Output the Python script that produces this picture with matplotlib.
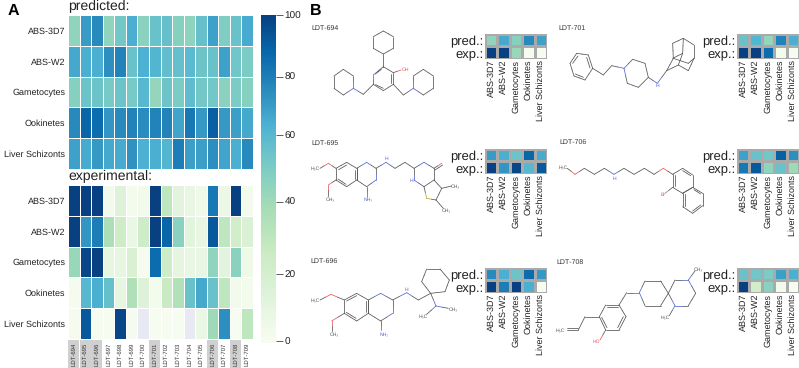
import numpy as np
import matplotlib
matplotlib.use("Agg")
import matplotlib.pyplot as plt

plt.rcParams['font.family'] = ['Liberation Sans', 'DejaVu Sans']
plt.rcParams['text.hinting'] = 'no_hinting'
plt.rcParams['text.hinting_factor'] = 1

assays = ["ABS-3D7", "ABS-W2", "Gametocytes", "Ookinetes", "Liver Schizonts"]
compounds = ["LDT-694", "LDT-695", "LDT-696", "LDT-697", "LDT-698", "LDT-699", "LDT-700", "LDT-701",
             "LDT-702", "LDT-703", "LDT-704", "LDT-705", "LDT-706", "LDT-707", "LDT-708", "LDT-709"]
highlighted = ["LDT-694", "LDT-695", "LDT-696", "LDT-701", "LDT-706", "LDT-708"]

pred_3d7 = [44, 70, 76, 44, 52, 64, 46, 55, 56, 47, 45, 56, 68, 49, 55, 65]
pred_w2 = [66, 64, 64, 74, 78, 55, 63, 61, 57, 56, 59, 54, 55, 68, 53, 50]
pred_gam = [47, 54, 54, 51, 54, 51, 60, 43, 54, 50, 58, 52, 52, 46, 50, 47]
pred_ook = [76, 88, 86, 72, 76, 78, 75, 78, 78, 67, 82, 71, 90, 71, 69, 66]
pred_liv = [68, 65, 71, 66, 65, 73, 63, 64, 61, 80, 69, 69, 74, 67, 64, 76]

exp_3d7 = [100, 100, 100, 3, 14, 2, 3, 100, 30, 11, 8, 5, 82, 6, 100, 2]
exp_w2 = [100, 72, 80, 36, 24, 7, 24, 100, 88, 46, 12, 8, 92, 30, 22, 16]
exp_gam = [42, 98, 100, 9, 9, 17, 1, 86, 24, 10, 8, 8, 44, 11, 46, 5]
exp_ook = [1, 60, 64, 56, 9, 35, 14, 2, 26, 34, 55, 66, 55, 30, 3, 2]
exp_liv = [1, 92, 0, 0, 98, 1, np.nan, 0, 0, 0, np.nan, 7, 40, 74, 0, 30]

cbar_ticks = [0, 20, 40, 60, 80, 100]

predicted = np.array([pred_3d7, pred_w2, pred_gam, pred_ook, pred_liv], float)
experimental = np.array([exp_3d7, exp_w2, exp_gam, exp_ook, exp_liv], float)

W, H = 799, 368
fig = plt.figure(figsize=(W / 100, H / 100), dpi=100)
cmap = plt.get_cmap("GnBu").copy()
cmap.set_bad("#e9e9f3")


def px_axes(x0, y0, x1, y1):
    return fig.add_axes([x0 / W, 1 - y1 / H, (x1 - x0) / W, (y1 - y0) / H])


def heat(ax, data, edge, lw):
    d = np.ma.masked_invalid(data)
    ax.pcolormesh(d, cmap=cmap, vmin=0, vmax=100, edgecolors=edge, linewidth=lw)
    ax.set_xlim(0, data.shape[1])
    ax.set_ylim(data.shape[0], 0)
    for s in ax.spines.values():
        s.set_visible(False)
    ax.tick_params(length=0)


# Panel A
top = px_axes(68, 15, 253, 169)
heat(top, predicted, "white", 0.7)
top.set_xticks([])
top.set_yticks(np.arange(5) + .5, assays, fontsize=6.6, color="#222222")
top.tick_params(axis="y", pad=1.8)

bot = px_axes(68, 185, 253, 339)
heat(bot, experimental, "white", 0.7)
bot.set_yticks(np.arange(5) + .5, assays, fontsize=6.6, color="#222222")
bot.tick_params(axis="y", pad=1.8)
bot.set_xticks(np.arange(16) + .5, compounds, rotation=90, fontsize=4.1, color="#333333")
bot.tick_params(axis="x", pad=2.4)
for lab in bot.get_xticklabels():
    if lab.get_text() in highlighted:
        lab.set_bbox(dict(facecolor="#d0d0d0", edgecolor="none", pad=2.0))

# Colour bar: tick spacing in the reference is slightly uneven
tick_vals = [-0.6, 0, 20, 40, 60, 80, 100]
tick_pos = [343, 341, 274, 201.7, 135, 76.7, 15]


def fwd(v):
    return np.interp(v, tick_vals, -np.array(tick_pos))


def inv(y):
    return np.interp(y, -np.array(tick_pos), tick_vals)


cax = px_axes(261, 15, 276, 343)
levels = np.linspace(-0.6, 100, 300)
cax.pcolormesh([0, 1], levels, np.clip(levels[:-1], 0, 100)[:, None], cmap=cmap, vmin=0, vmax=100)
cax.set_yscale("function", functions=(fwd, inv))
cax.set_ylim(-0.6, 100)
cax.set_xticks([])
cax.yaxis.tick_right()
cax.set_yticks(cbar_ticks, [str(t) for t in cbar_ticks], fontsize=7.5, color="#222222")
cax.minorticks_off()
cax.tick_params(axis="y", length=5, width=0.6, color="#444444", pad=1)
for s in cax.spines.values():
    s.set_visible(False)

# Panel B mini heatmaps
panels = {"LDT-694": (485, 34), "LDT-701": (737, 34), "LDT-695": (485, 149),
          "LDT-706": (737, 149), "LDT-696": (485, 268), "LDT-708": (737, 268)}
for name, (px, py) in panels.items():
    i = compounds.index(name)
    ax = px_axes(px, py, px + 62, py + 24.5)
    heat(ax, np.vstack([predicted[:, i], experimental[:, i]]), "#aaaaaa", 1.0)
    ax.set_yticks([.5, 1.5], ["pred.:", "exp.:"], fontsize=9.2, color="#222222")
    ax.set_xticks(np.arange(5) + .5, assays, rotation=90, fontsize=6.7, color="#222222")
    ax.tick_params(axis="y", pad=1)
    ax.tick_params(axis="x", pad=1)

# Overlay for texts and molecule sketches, in pixel coordinates
ov = fig.add_axes([0, 0, 1, 1], zorder=-1)
ov.set_xlim(0, W)
ov.set_ylim(H, 0)
ov.axis("off")

fig.text(68 / W, 1 - 6 / H, "predicted:", fontsize=9.9, va="center", color="#222222")
fig.text(68 / W, 1 - 176.5 / H, "experimental:", fontsize=9.9, va="center", color="#222222")
fig.text(8 / W, 1 - 11 / H, "A", fontsize=11.5, fontweight="bold", va="center")
fig.text(310 / W, 1 - 10.5 / H, "B", fontsize=11.5, fontweight="bold", va="center")

RED, BLUE, OLIVE, BROWN = "#ee5555", "#5566cc", "#b5a83a", "#a87878"


def molecule(off, chains, atoms, labels):
    """chains: polylines, atoms: heteroatom points, labels: atom texts; all in 3x sketch units."""
    ox, oy = off
    atom_map = {xy: c for xy, c in atoms}
    for chain in chains:
        for a, b in zip(chain[:-1], chain[1:]):
            m = ((a[0] + b[0]) / 2, (a[1] + b[1]) / 2)
            for p, q in ((a, m), (b, m)):
                ov.plot([ox + p[0] / 3, ox + q[0] / 3], [oy + p[1] / 3, oy + q[1] / 3],
                        color=atom_map.get(p, "#555555"), lw=0.55, solid_capstyle="round")
    for x, y, s, c in labels:
        ov.text(ox + x / 3, oy + y / 3, s, fontsize=3.6, color=c, ha="center", va="center")


def ring(*pts):
    return list(pts) + [pts[0]]


molecule((310, 0), [
    ring((220, 93), (250, 110), (250, 145), (220, 162), (190, 145), (190, 110)),
    [(220, 162), (220, 200)],
    ring((220, 200), (250, 218), (250, 253), (220, 272), (190, 253), (190, 225)),
    [(214, 208), (196, 222)], [(243, 222), (243, 250)], [(197, 254), (220, 265)],
    [(250, 218), (273, 210)],
    [(190, 253), (160, 283), (130, 265)],
    ring((130, 265), (100, 285), (72, 265), (72, 228), (100, 208), (130, 228)),
    [(250, 253), (280, 285), (310, 265)],
    ring((310, 265), (340, 285), (370, 265), (370, 228), (340, 208), (310, 228)),
], [((190, 225), BLUE), ((130, 265), BLUE), ((310, 265), BLUE), ((273, 210), RED)],
    [(287, 208, "OH", RED)])

molecule((550, 0), [
    ring((60, 190), (80, 160), (115, 165), (128, 205), (105, 240), (72, 228)),
    [(68, 190), (84, 168)], [(110, 172), (120, 204)], [(100, 232), (76, 222)],
    [(128, 205), (160, 225), (185, 197), (222, 205)],
    ring((222, 205), (248, 178), (285, 190), (295, 232), (265, 262), (232, 250)),
    [(295, 232), (322, 250), (350, 212), (370, 175), (368, 130), (400, 115), (432, 135), (432, 175), (415, 212), (385, 195), (350, 212)],
    [(370, 175), (415, 190), (432, 175)], [(400, 115), (398, 160), (385, 195)], [(368, 175), (398, 160)],
], [((222, 205), BLUE), ((322, 250), BLUE)], [(323, 256, "H", BLUE)])

molecule((310, 125), [
    [(30, 130), (55, 115), (78, 130)],
    ring((78, 130), (110, 112), (140, 130), (140, 165), (110, 185), (78, 165)),
    [(86, 134), (110, 120)], [(134, 134), (134, 162)], [(84, 162), (108, 178)],
    ring((140, 130), (170, 112), (198, 130), (198, 165), (170, 185), (140, 165)),
    [(170, 185), (170, 215)],
    [(78, 165), (55, 180), (55, 212)],
    [(198, 130), (228, 112), (255, 130), (285, 112), (312, 130)],
    ring((312, 130), (342, 112), (372, 130), (372, 165), (342, 185), (312, 165)),
    [(372, 130), (395, 115)], [(375, 135), (398, 120)],
    [(372, 165), (395, 190), (378, 225), (350, 220), (342, 185)],
    [(395, 190), (425, 183)], [(378, 225), (400, 250)],
], [((55, 115), RED), ((55, 180), RED), ((170, 112), BLUE), ((198, 165), BLUE), ((228, 112), BLUE),
    ((170, 215), BLUE), ((342, 112), BLUE), ((312, 165), BLUE), ((395, 115), RED), ((350, 220), OLIVE)],
    [(15, 130, "H₃C", "#555555"), (228, 102, "H", BLUE), (175, 222, "NH₂", BLUE), (62, 222, "CH₃", "#555555"),
     (437, 183, "CH₃", "#555555"), (408, 255, "CH₃", "#555555"), (305, 166, "H", BLUE)])

molecule((550, 125), [
    [(52, 130), (75, 148), (103, 130), (133, 148), (163, 130), (192, 148), (222, 130), (252, 148), (283, 130),
     (312, 148), (340, 130), (368, 148)],
    ring((368, 148), (398, 130), (428, 150), (428, 187), (398, 205), (368, 187)),
    [(398, 137), (422, 152)], [(374, 150), (374, 184)],
    ring((428, 187), (458, 205), (458, 242), (428, 265), (398, 245), (398, 205)),
    [(432, 194), (452, 207)], [(452, 240), (428, 258)], [(404, 242), (404, 208)],
    [(368, 187), (345, 205)],
], [((75, 148), RED), ((192, 148), BLUE), ((340, 130), RED), ((345, 205), BROWN)],
    [(40, 127, "H₃C", "#555555"), (193, 162, "H", BLUE), (339, 208, "Br", BROWN)])

molecule((310, 245), [
    [(30, 165), (63, 148), (103, 165)],
    ring((103, 165), (140, 145), (175, 165), (175, 205), (140, 228), (103, 205)),
    [(110, 168), (140, 152)], [(169, 168), (169, 202)], [(109, 202), (138, 220)],
    ring((175, 165), (212, 145), (248, 165), (248, 205), (212, 228), (175, 205)),
    [(212, 228), (212, 256)],
    [(103, 205), (65, 228), (65, 258)],
    [(248, 165), (290, 143), (325, 165), (362, 145)],
    ring((362, 145), (335, 110), (350, 72), (390, 72), (418, 105), (405, 140)),
    [(362, 145), (378, 183), (415, 190)], [(378, 183), (350, 208)],
], [((63, 148), RED), ((65, 228), RED), ((212, 145), BLUE), ((248, 205), BLUE), ((290, 143), BLUE),
    ((212, 256), BLUE), ((378, 183), BLUE)],
    [(15, 167, "H₃C", "#555555"), (222, 267, "NH₂", BLUE), (72, 267, "CH₃", "#555555"),
     (290, 133, "H", BLUE), (430, 192, "CH₃", "#555555"), (340, 215, "H₃C", "#555555")])

molecule((550, 245), [
    [(52, 255), (85, 255), (105, 215), (148, 215)], [(52, 250), (83, 250)],
    ring((148, 215), (167, 180), (207, 180), (228, 215), (207, 255), (167, 255)),
    [(172, 187), (204, 187)], [(220, 215), (203, 248)], [(171, 248), (155, 217)],
    [(167, 255), (150, 285)],
    [(207, 180), (230, 143), (268, 143)],
    ring((268, 143), (285, 108), (332, 108), (355, 145), (332, 182), (285, 182)),
    ring((355, 145), (375, 105), (415, 105), (437, 145), (415, 182), (375, 182)),
    [(415, 105), (435, 78)], [(375, 182), (358, 212)],
], [((150, 285), RED), ((268, 143), BLUE), ((415, 105), BLUE), ((375, 182), BLUE)],
    [(30, 255, "H₃C", "#555555"), (140, 290, "HO", RED), (445, 72, "CH₃", "#555555"), (345, 218, "H₃C", "#555555")])

for name, x, y in [("LDT-694", 311, 28), ("LDT-701", 558, 28), ("LDT-695", 311, 143),
                   ("LDT-706", 559, 142), ("LDT-696", 310, 261), ("LDT-708", 556, 262)]:
    ov.text(x, y, name, fontsize=4.9, va="center", color="#333333")

fig.savefig("out.png", dpi=100)
